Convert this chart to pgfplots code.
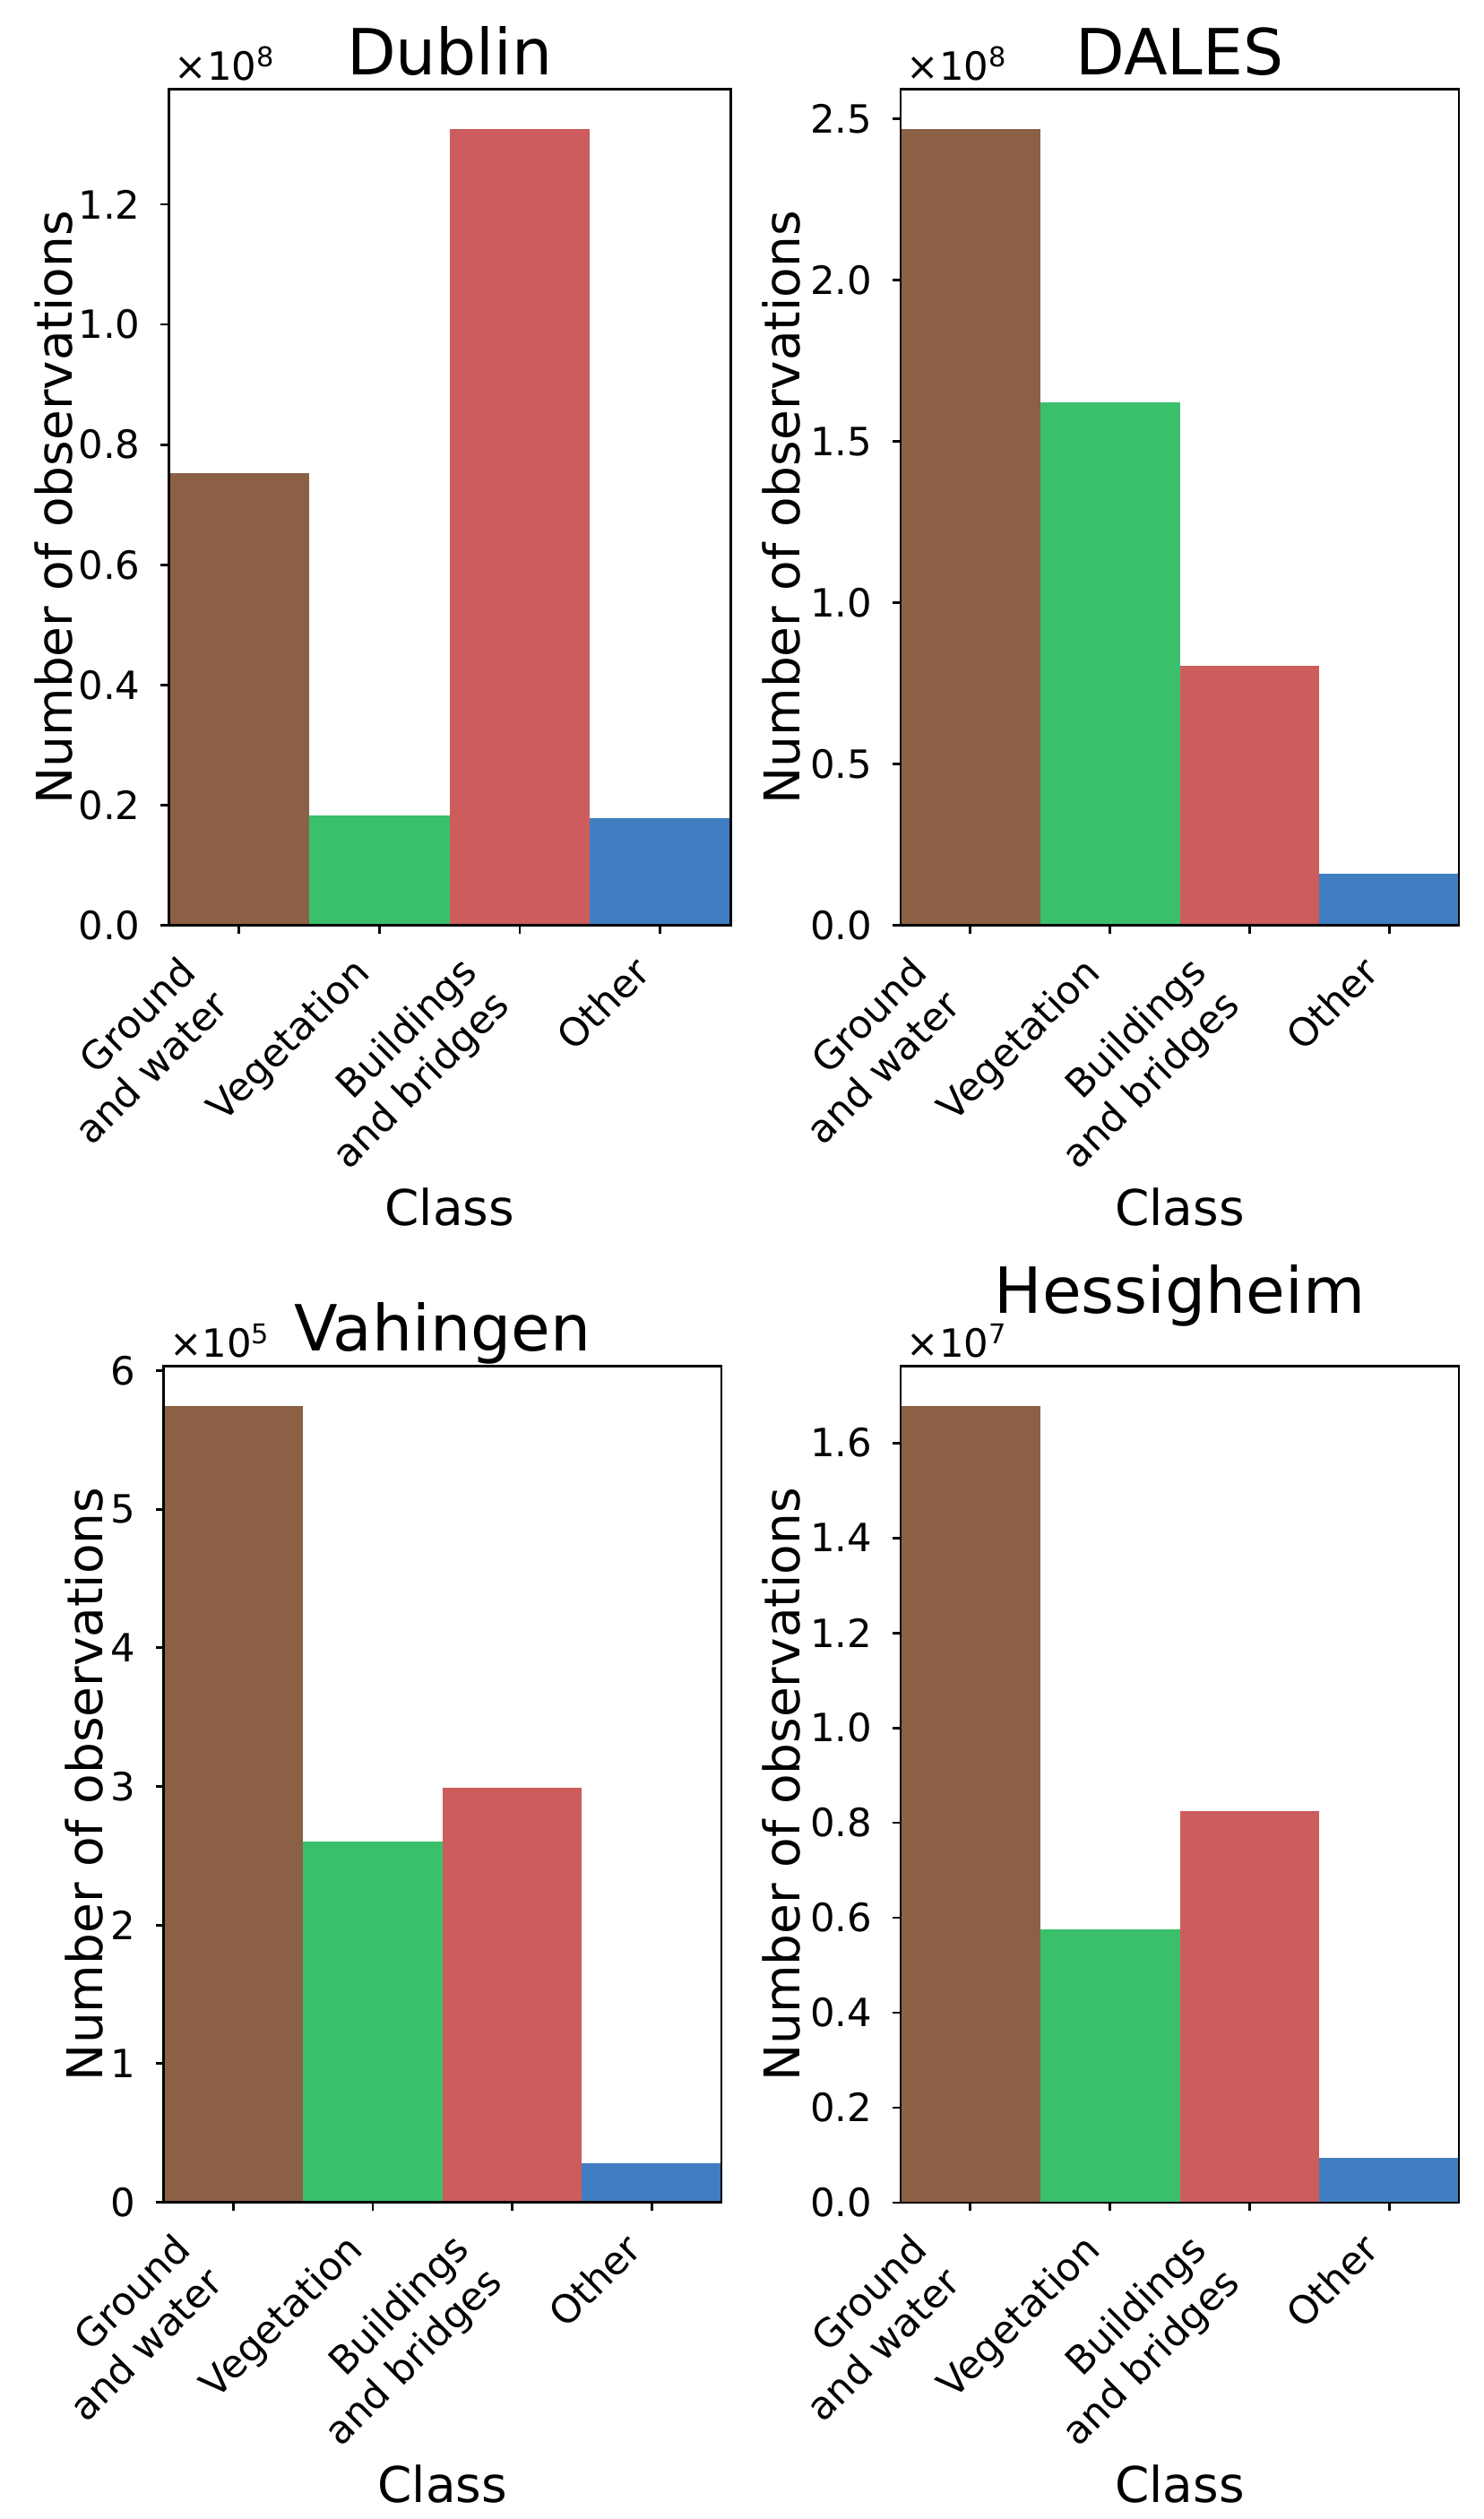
\documentclass[border=0pt]{standalone}
\usepackage{fontspec}
\setmainfont{DejaVu Sans}
\usepackage{pgfplots}
\pgfplotsset{compat=1.18}
\definecolor{cBrown}{RGB}{140,96,69}
\definecolor{cGreen}{RGB}{58,192,107}
\definecolor{cRed}{RGB}{205,92,92}
\definecolor{cBlue}{RGB}{65,125,193}
\newcommand{\tickfont}{\fontsize{12.4}{14.9}\selectfont}
\newcommand{\labfont}{\fontsize{15.7}{18.8}\selectfont}
\newcommand{\titfont}{\fontsize{20.3}{24.4}\selectfont}
\pgfplotsset{
  panel/.style={
    scale only axis, anchor=south west,
    xmin=-0.5, xmax=3.5, ymin=0,
    axis on top,
    axis line style={line width=0.8pt},
    every tick/.style={black, line width=0.8pt},
    major tick length=2.6pt,
    tick align=outside,
    xtick pos=bottom, ytick pos=left,
    minor tick num=0,
    scaled y ticks=false,
    /pgf/number format/assume math mode=true,
    xtick={0,2},
    xticklabels={{Ground\\and water},{Buildings\\and bridges}},
    extra x ticks={1,3},
    extra x tick labels={Vegetation,Other},
    xticklabel style={font=\tickfont, inner sep=0pt, rotate=45, anchor=north east, align=right, xshift=-18.4pt, yshift=9.6pt},
    extra x tick style={xticklabel style={xshift=7.5pt, yshift=-7.5pt}},
    yticklabel style={font=\tickfont, inner sep=0pt, anchor=east, xshift=-6.3pt},
    every axis title shift=0pt,
    title style={font=\titfont, at={(0.5,1)}, anchor=base, yshift=4.7pt},
    xlabel={Class},
    ylabel={Number of observations},
    every axis x label/.style={at={(axis description cs:0.5,-0.359)}, anchor=base, font=\labfont},
  },
  offs/.style={extra description/.code={\node[anchor=base west, inner sep=0pt, font=\tickfont, xshift=1.7pt, yshift=2.86pt] at (rel axis cs:0,1) {×10\textsuperscript{#1}};}},
  ylab/.style={every axis y label/.style={at={(axis description cs:#1,0.5)}, rotate=90, anchor=base, font=\labfont}},
  dec/.style={yticklabel style={/pgf/number format/fixed, /pgf/number format/fixed zerofill, /pgf/number format/precision=#1}},
  bar/.style={ybar, bar width=1, bar shift=0pt, fill=#1, draw=none}
}
\begin{document}
\begin{tikzpicture}
\path[use as bounding box] (0,0) rectangle (472.86pt,803.14pt);
% Dublin
\begin{axis}[panel, at={(53.8pt,508.1pt)}, width=179.1pt, height=266.5pt,
  ymax=1.391, ytick={0,0.2,0.4,0.6,0.8,1.0,1.2}, dec=1, title={Dublin},
  ylab=-0.1723, offs=8]
\addplot[bar=cBrown] coordinates {(0,0.7525)};
\addplot[bar=cGreen] coordinates {(1,0.1834)};
\addplot[bar=cRed] coordinates {(2,1.3245)};
\addplot[bar=cBlue] coordinates {(3,0.1782)};
\end{axis}
% DALES
\begin{axis}[panel, at={(287.14pt,508.1pt)}, width=178pt, height=266.5pt,
  ymax=2.591, ytick={0,0.5,1.0,1.5,2.0,2.5}, dec=1, title={DALES},
  ylab=-0.1798, offs=8]
\addplot[bar=cBrown] coordinates {(0,2.468)};
\addplot[bar=cGreen] coordinates {(1,1.621)};
\addplot[bar=cRed] coordinates {(2,0.805)};
\addplot[bar=cBlue] coordinates {(3,0.159)};
\end{axis}
% Vahingen
\begin{axis}[panel, at={(52.2pt,101.0pt)}, width=177.8pt, height=266.6pt,
  ymax=6.033, ytick={0,1,2,3,4,5,6}, dec=0, title={Vahingen},
  ylab=-0.1088, offs=5]
\addplot[bar=cBrown] coordinates {(0,5.746)};
\addplot[bar=cGreen] coordinates {(1,2.603)};
\addplot[bar=cRed] coordinates {(2,2.988)};
\addplot[bar=cBlue] coordinates {(3,0.280)};
\end{axis}
% Hessigheim
\begin{axis}[panel, at={(287.14pt,100.86pt)}, width=178pt, height=266.6pt,
  ymax=1.761, ytick={0,0.2,0.4,0.6,0.8,1.0,1.2,1.4,1.6}, dec=1, title={Hessigheim},
  title style={yshift=12.4pt},
  ylab=-0.1798, offs=7]
\addplot[bar=cBrown] coordinates {(0,1.677)};
\addplot[bar=cGreen] coordinates {(1,0.5765)};
\addplot[bar=cRed] coordinates {(2,0.825)};
\addplot[bar=cBlue] coordinates {(3,0.0935)};
\end{axis}
\end{tikzpicture}
\end{document}
